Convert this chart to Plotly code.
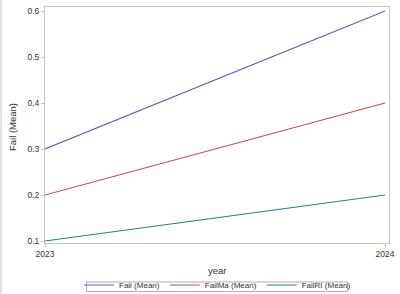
import plotly.graph_objects as go

years = [2023, 2024]
fail_mean = [0.3, 0.6]
failma_mean = [0.2, 0.4]
failri_mean = [0.1, 0.2]
series_names = ["Fail (Mean)", "FailMa (Mean)", "FailRI (Mean)"]
colors = ["#5b67ad", "#b4574c", "#2e7f72"]

fig = go.Figure()
for name, vals, c in zip(series_names, [fail_mean, failma_mean, failri_mean], colors):
    fig.add_trace(go.Scatter(x=years, y=vals, mode="lines", name=name,
                             line=dict(color=c, width=1.2)))

W, H = 400, 294
L, R, T, B = 45, 11, 7, 51
pw, ph = W - L - R, H - T - B


def px_x(p):
    return (p - L) / pw


def px_y(p):
    return (H - B - p) / ph


axis_common = dict(showline=True, linecolor="#c4c4c4", linewidth=1, mirror=True,
                   ticks="outside", ticklen=3, tickcolor="#c4c4c4", showgrid=False,
                   zeroline=False, automargin=False,
                   tickfont=dict(size=8.5, color="#333333"))

fig.update_layout(
    width=W, height=H,
    margin=dict(l=L, r=R, t=T, b=B, autoexpand=False),
    paper_bgcolor="white", plot_bgcolor="white",
    font=dict(family="Liberation Sans, Arial, sans-serif", size=10, color="#333333"),
    xaxis=dict(axis_common, range=[2023, 2024 + 4 / 340], tickvals=years,
               ticktext=[str(y) for y in years]),
    yaxis=dict(axis_common, range=[0.1 - 2 / 460, 0.6 + 4 / 460],
               tickvals=[0.1, 0.2, 0.3, 0.4, 0.5, 0.6], tickformat=".1f"),
    legend=dict(orientation="h", x=(87 + 348) / 2 / W, xref="container", xanchor="center",
                yref="container", y=(H - 285) / H,
                yanchor="middle", borderwidth=0,
                font=dict(size=8, color="#333333"), itemwidth=30, tracegroupgap=0,
                bgcolor="rgba(0,0,0,0)"),
    annotations=[
        dict(text="year", xref="paper", yref="paper", x=px_x(217), y=px_y(270),
             xanchor="center", yanchor="middle", showarrow=False,
             font=dict(size=9.5, color="#333333")),
        dict(text="Fail (Mean)", xref="paper", yref="paper", x=px_x(12), y=px_y(127),
             xanchor="center", yanchor="middle", showarrow=False, textangle=-90,
             font=dict(size=9.5, color="#333333")),
    ],
    shapes=[
        dict(type="line", xref="paper", yref="paper",
             x0=px_x(1), x1=px_x(1), y0=px_y(H), y1=px_y(0),
             line=dict(color="#c0c0c0", width=1)),
        dict(type="rect", xref="paper", yref="paper",
             x0=px_x(86.5), x1=px_x(347.5), y0=px_y(291.5), y1=px_y(282),
             line=dict(color="#b0b0b0", width=1)),
    ],
)

fig.write_html("out.html")
